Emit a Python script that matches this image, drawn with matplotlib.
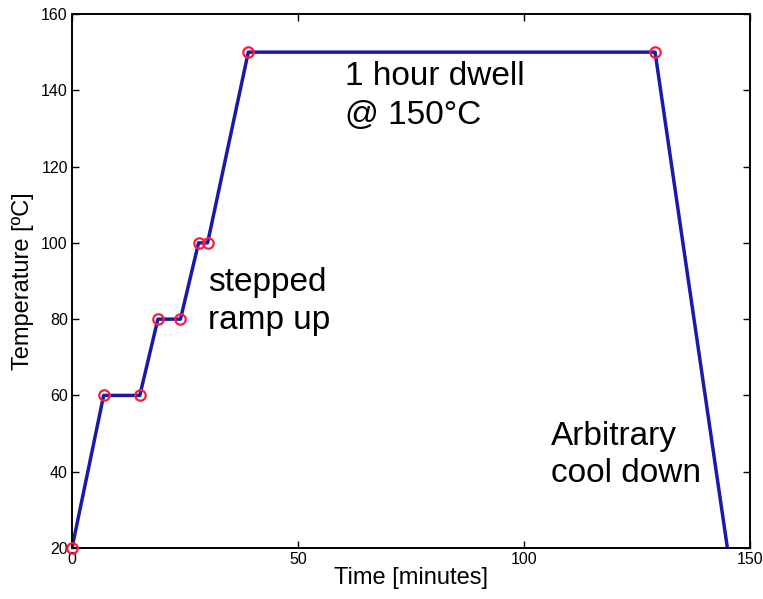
import matplotlib
matplotlib.use('Agg')
import matplotlib.pyplot as plt

# reflow profile
time_min = [0, 7, 15, 19, 24, 28, 30, 39, 129, 145]
temp_c = [20, 60, 60, 80, 80, 100, 100, 150, 150, 20]

plt.rcParams['font.family'] = ['Liberation Sans', 'DejaVu Sans']

fig = plt.figure(figsize=(7.63, 5.99), dpi=100)
ax = fig.add_axes([72 / 763, 1 - 548 / 599, 678 / 763, 534 / 599])

ax.plot(time_min, temp_c, color='#1a1aaa', lw=2.5, zorder=2)
ax.plot(time_min[:-1], temp_c[:-1], 'o', mfc='none', mec='#ff1a3c', mew=1.6,
        ms=7.5, zorder=3, clip_on=False)

ax.set_xlim(0, 150)
ax.set_ylim(20, 160)
ax.set_xticks([0, 50, 100, 150])
ax.set_yticks(range(20, 161, 20))
for s in ax.spines.values():
    s.set_linewidth(1.4)
ax.tick_params(direction='in', top=True, right=True, labelsize=11.5, length=5,
               width=1.0, pad=3)
ax.set_xlabel('Time [minutes]', fontsize=17, labelpad=0)
ax.set_ylabel('Temperature [ºC]', fontsize=17, labelpad=5)

ax.text(60.5, 138.5, '1 hour dwell\n@ 150°C', fontsize=24, va='center', linespacing=1.3)
ax.text(30, 84.7, 'stepped\nramp up', fontsize=24, va='center', linespacing=1.3)
ax.text(106, 44.4, 'Arbitrary\ncool down', fontsize=24, va='center', linespacing=1.25)

fig.savefig('out.png', dpi=100)
